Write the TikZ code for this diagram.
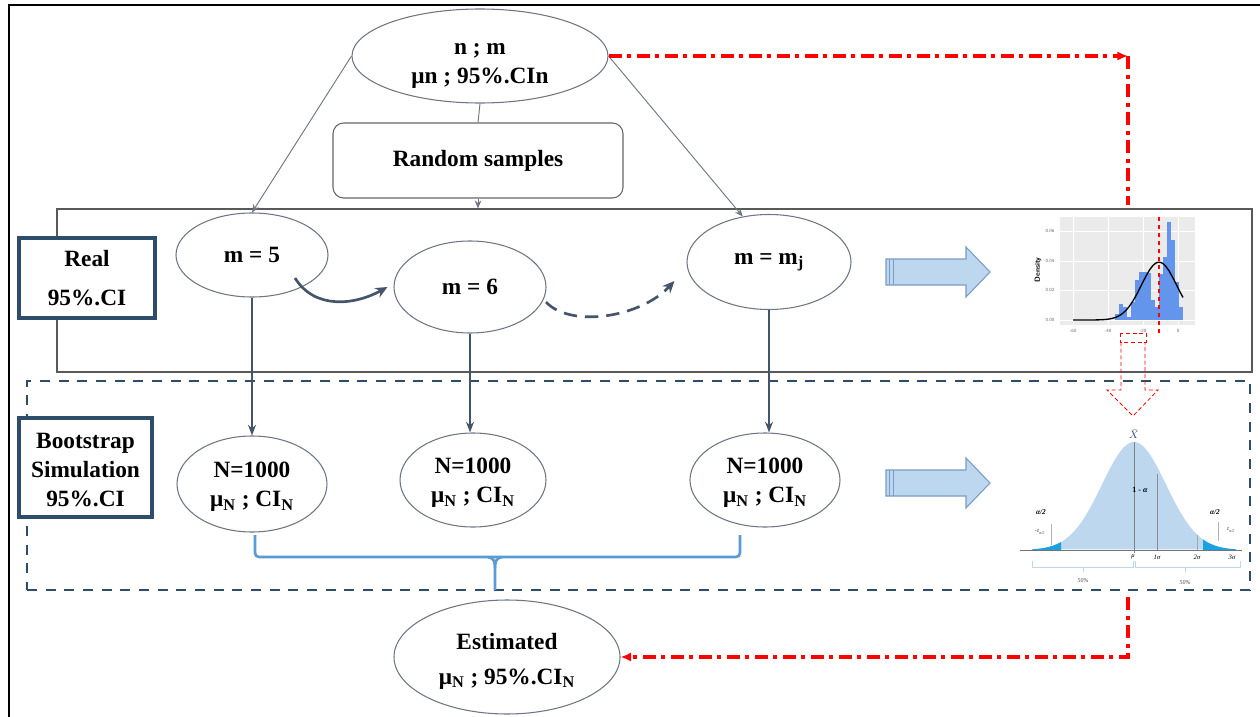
\documentclass[tikz,border=0pt]{standalone}
\usepackage{fontspec}
\setmainfont{Liberation Serif}
\usetikzlibrary{shapes.geometric,arrows.meta,calc}
\definecolor{navy}{HTML}{2E4D6B}
\definecolor{ellgray}{HTML}{6E7683}
\definecolor{slate}{HTML}{44546A}
\definecolor{fatfill}{HTML}{BDD7EE}
\definecolor{fatedge}{HTML}{7A9CC6}
\definecolor{brk}{HTML}{5B9BD5}
\definecolor{tailc}{HTML}{1BA1E2}
\definecolor{panel}{HTML}{EBEBEB}
\definecolor{barc}{HTML}{6495ED}
\definecolor{bellc}{HTML}{BDD7EE}
\newcommand{\fatarr}[1]{%
  \begin{scope}[shift={#1}]
    \filldraw[fat] (0,-13) -- (80,-13) -- (80,-25) -- (104,0) -- (80,25) -- (80,13) -- (0,13) -- cycle;
    \draw[fatedge, line width=0.6pt] (3.5,-13) -- (3.5,13) (7,-13) -- (7,13);
  \end{scope}}
\begin{document}
\begin{tikzpicture}[x=0.75pt,y=-0.75pt,
  txt/.style={font=\fontsize{17.5}{22}\selectfont\bfseries, align=center},
  ell/.style={ellipse, draw=ellgray, line width=0.8pt, inner sep=0pt, txt},
  lbl/.style={draw=navy, line width=2.6pt, fill=white, txt, inner sep=0pt},
  thinline/.style={draw=ellgray, line width=0.7pt},
  thinarrow/.style={thinline, -{Stealth[length=6pt,width=5pt]}},
  vert/.style={draw=slate, line width=1.3pt, -{Stealth[length=8pt,width=6pt]}},
  curv/.style={draw=slate, line width=2pt, -{Stealth[length=9pt,width=8pt]}},
  redcon/.style={draw=red, line width=2.8pt, dash pattern=on 10pt off 4pt on 3pt off 4pt},
  fat/.style={fill=fatfill, draw=fatedge, line width=0.8pt},
  tiny/.style={font=\fontsize{5}{6}\selectfont, inner sep=0pt},
]
\useasboundingbox (0,0) rectangle (1260,717);
% outer frame
\draw[line width=1.8pt] (9,717) -- (9,5) -- (1260,5);

% group boxes
\node[draw=black!65, line width=0.8pt, minimum width=1195*0.75pt, minimum height=163*0.75pt, inner sep=0pt] (realbox) at (654.5,290.5) {};
\node[draw=navy, line width=2.2pt, dash pattern=on 7.5pt off 6.5pt, minimum width=1223*0.75pt, minimum height=209*0.75pt, inner sep=0pt] (bootbox) at (638.5,485.5) {};

% labels
\node[lbl, minimum width=136*0.75pt, minimum height=80*0.75pt] (real) at (87,278) {Real\\[7pt]95\%.CI};
\node[lbl, minimum width=133*0.75pt, minimum height=99*0.75pt] (boot) at (85.5,467.5) {\rule{0pt}{15pt}Bootstrap\\Simulation\\95\%.CI};

% ellipses
\node[ell, minimum width=256*0.75pt, minimum height=94*0.75pt] (top) at (480,56) {\rule{0pt}{23pt}n ; m\\μn ; 95\%.CIn};
\node[draw=black!60, line width=0.8pt, rounded corners=8pt, minimum width=290*0.75pt, minimum height=75*0.75pt, txt] (rand) at (478,160.5) {Random samples};
\node[ell, minimum width=152*0.75pt, minimum height=84*0.75pt] (m5) at (252,255) {m = 5};
\node[ell, minimum width=152*0.75pt, minimum height=92*0.75pt] (m6) at (470,287) {m = 6};
\node[ell, minimum width=164*0.75pt, minimum height=95*0.75pt] (mj) at (769,262) {m = m\textsubscript{j}};
\node[ell, minimum width=150*0.75pt, minimum height=96*0.75pt] (n1) at (252,484) {\rule{0pt}{16pt}N=1000\\μ\textsubscript{N} ; CI\textsubscript{N}};
\node[ell, minimum width=146*0.75pt, minimum height=94*0.75pt] (n2) at (473,480) {\rule{0pt}{16pt}N=1000\\μ\textsubscript{N} ; CI\textsubscript{N}};
\node[ell, minimum width=150*0.75pt, minimum height=94*0.75pt] (n3) at (765,480) {\rule{0pt}{16pt}N=1000\\μ\textsubscript{N} ; CI\textsubscript{N}};
\node[ell, minimum width=226*0.75pt, minimum height=114*0.75pt] (est) at (507,657) {\rule{0pt}{19pt}Estimated\\[4pt]μ\textsubscript{N} ; 95\%.CI\textsubscript{N}};

% connectors top
\draw[thinline] (top.south) -- (rand.north);
\draw[thinarrow] (rand.south) -- (rand.south |- realbox.north);
\draw[thinarrow] (top.west) -- (m5.north);
\draw[thinarrow] (top.east) -- (mj.120);

% curved arrows
\draw[curv] ($(m5.center)+(43,23)$) .. controls (315,310) and (355,305) .. ($(m6.west)+(-6,0)$);
\draw[curv, dash pattern=on 10pt off 6pt] ($(m6.center)+(76,15)$) .. controls (570,328) and (640,318) .. ($(mj.west)+(-12,19)$);

% vertical arrows
\draw[vert] (m5.south) -- (n1.north);
\draw[vert] (m6.south) -- (m6.south |- n2.north);
\draw[vert] (mj.south) -- (mj.south |- n3.north);

% bracket
\draw[brk, line width=2pt, rounded corners=3pt] (255,535) -- (255,557) -- (740,557) -- (740,535);
\draw[brk, line width=2pt] (488,557) .. controls (494,558) and (495,562) .. (495,568) -- (495,590);
\draw[brk, line width=2pt] (502,557) .. controls (496,558) and (495,562) .. (495,568);

% fat arrows
\fatarr{(886,272)}
\fatarr{(886,483)}

% histogram
\fill[panel] (1060,217) rectangle (1195,325);
\foreach \yy in {231,261,290,320} \draw[white, line width=0.5pt] (1060,\yy) -- (1195,\yy);
\foreach \xx in {1073,1108,1143,1178} \draw[white, line width=0.5pt] (\xx,217) -- (\xx,325);
\foreach \a/\b in {1115/314,1119/304,1123/307,1127/317,1131/302,1135/280,1139/272,1143/272,1147/273,1151/300,1155/307,1159/274,1163/257,1167/222,1171/240,1175/282,1179/307}
  \fill[barc] (\a,\b) rectangle (\a+4,320);
\draw[black, line width=1pt] plot[domain=1073:1183, samples=80, smooth] (\x, {320-57.8*exp(-((\x-1159)/17.5)^2/2)});
\draw[red, line width=0.8pt, dashed] (1159,217) -- (1159,336);
\foreach \t/\v in {231/0.06,261/0.04,290/0.02,320/0.00}
  \node[font=\sffamily\fontsize{3.5}{4}\selectfont, text=black!60, inner sep=0pt] at (1050,\t) {\v};
\foreach \t/\v in {1073/-60,1108/-40,1143/-20,1178/0}
  \node[font=\sffamily\fontsize{3.5}{4}\selectfont, text=black!60, inner sep=0pt] at (\t,331) {\v};
\node[font=\sffamily\bfseries\fontsize{5.5}{6}\selectfont, rotate=90, inner sep=0pt] at (1038,270) {Density};

% red dotted hollow arrow
\draw[red, line width=0.6pt, densely dashed] (1120,333) rectangle (1146,342);
\draw[red, line width=0.6pt, densely dashed] (1121,342) -- (1121,390) -- (1107,390) -- (1133,416) -- (1158,390) -- (1145,390) -- (1145,342);

% bell curve
\fill[bellc] plot[domain=1032:1236, samples=100, smooth] (\x, {550-108*exp(-((\x-1134)/32)^2/2)}) -- cycle;
\fill[tailc] (1032,550) -- plot[domain=1032:1061, samples=15] (\x, {550-108*exp(-((\x-1134)/32)^2/2)}) -- (1061,550) -- cycle;
\fill[tailc] (1203,550) -- plot[domain=1203:1236, samples=15] (\x, {550-108*exp(-((\x-1134)/32)^2/2)}) -- (1236,550) -- cycle;
\draw[black!55, line width=0.6pt] (1020,550) -- (1242,550);
\draw[black!50, line width=0.6pt] (1134,442) -- (1134,553);
\draw[black!45, line width=0.5pt] (1157,474) -- (1157,550);
\draw[black!35, line width=0.5pt] (1197,535) -- (1197,550);
\draw[black!30, line width=0.5pt] (1051,524) -- (1051,545);
\draw[black!30, line width=0.5pt] (1218,522) -- (1218,541);
\node[tiny, text=navy, font=\fontsize{8}{9}\selectfont, anchor=south] at (1134,439) {$\bar{X}$};
\node[tiny, font=\bfseries\fontsize{6}{7}\selectfont] at (1140,490) {1 - \textit{α}};
\node[tiny, font=\bfseries\itshape\fontsize{5.5}{6}\selectfont] at (1041,512) {α/2};
\node[tiny, font=\bfseries\itshape\fontsize{5.5}{6}\selectfont] at (1215,512) {α/2};
\node[tiny, font=\itshape\fontsize{4.5}{5}\selectfont, text=black!70] at (1040,532) {-z\textsubscript{α/2}};
\node[tiny, font=\itshape\fontsize{4.5}{5}\selectfont, text=black!70] at (1231,530) {z\textsubscript{α/2}};
\node[tiny, font=\itshape\fontsize{5}{6}\selectfont] at (1133,557) {μ};
\node[tiny, font=\itshape\fontsize{5}{6}\selectfont] at (1157,557) {1σ};
\node[tiny, font=\itshape\fontsize{5}{6}\selectfont] at (1197,557) {2σ};
\node[tiny, font=\itshape\fontsize{5}{6}\selectfont] at (1232,557) {3σ};
\draw[brk!40, line width=0.6pt] (1032,561) -- (1032,567) -- (1133,567) -- (1133,561) (1083,567) -- (1083,572);
\draw[brk!40, line width=0.6pt] (1135,561) -- (1135,567) -- (1240,567) -- (1240,561) (1185,567) -- (1185,572);
\node[tiny, font=\itshape\fontsize{4.5}{5}\selectfont, text=black!70] at (1083,581) {50\%};
\node[tiny, font=\itshape\fontsize{4.5}{5}\selectfont, text=black!70] at (1185,583) {50\%};

% red connectors
\coordinate (c1) at (1128,56);
\coordinate (histtop) at (1128,205);
\coordinate (bellbot) at (1128,597);
\draw[redcon, -{Latex[length=8pt,width=7pt]}] (top.east) -- (c1);
\draw[redcon] (c1) -- (histtop);
\draw[redcon, -{Latex[length=8pt,width=7pt]}] (bellbot) -- (bellbot |- est.east) -- (est.east);
\end{tikzpicture}
\end{document}
